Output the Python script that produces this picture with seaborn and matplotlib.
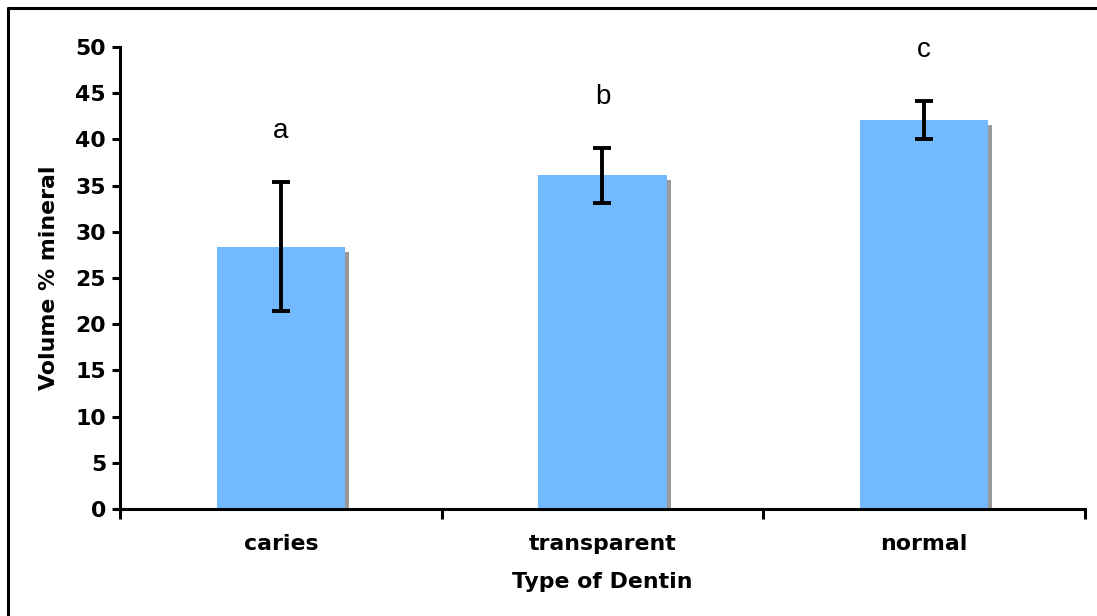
import matplotlib
matplotlib.use("Agg")
import matplotlib.pyplot as plt
import matplotlib.transforms as mtransforms
from matplotlib.lines import Line2D
import seaborn as sns
import pandas as pd

categories = ["caries", "transparent", "normal"]
mineral = [28.4, 36.1, 42.1]
errors = [7.0, 3.0, 2.05]
letters = ["a", "b", "c"]
yticks = [0, 5, 10, 15, 20, 25, 30, 35, 40, 45, 50]

df = pd.DataFrame({"dentin": categories, "mineral": mineral})

sns.set_theme(style="white")
plt.rcParams["font.family"] = ["DejaVu Sans"]
plt.rcParams["text.color"] = "black"
plt.rcParams["axes.labelcolor"] = "black"
plt.rcParams["xtick.color"] = "black"
plt.rcParams["ytick.color"] = "black"

FS = 15.8

fig = plt.figure(figsize=(10.97, 6.16), dpi=100)
ax = fig.add_axes([0.1094, 0.1737, 0.8796, 0.75])

# shadow bars
sns.barplot(data=df, x="dentin", y="mineral", order=categories, color="#999999",
            width=0.40, saturation=1, errorbar=None, ax=ax, zorder=1)
shadow_tr = mtransforms.offset_copy(ax.transData, fig=fig, x=4, y=-5, units="dots")
for p in ax.patches:
    p.set_transform(shadow_tr)
    p.set_edgecolor("none")
n_shadow = len(ax.patches)

sns.barplot(data=df, x="dentin", y="mineral", order=categories, color="#73B9FF",
            width=0.40, saturation=1, errorbar=None, ax=ax, zorder=2)
for p in ax.patches[n_shadow:]:
    p.set_edgecolor("none")
    p.set_zorder(2)

xs = list(range(len(categories)))
ax.errorbar(xs, mineral, yerr=errors, fmt="none", ecolor="black", elinewidth=2.8,
            capsize=6.5, capthick=2.8, zorder=3)

for x, m, e, lab in zip(xs, mineral, errors, letters):
    ax.text(x, m + e + 5.5, lab, ha="center", va="center", fontsize=20,
            family="Liberation Sans", color="black")

ax.set_xlim(-0.5, 2.5)
ax.set_ylim(0, 50)
ax.set_yticks(yticks)
ax.set_yticklabels([str(v) for v in yticks], fontsize=FS, fontweight="bold")
ax.set_xticks([-0.5, 0.5, 1.5, 2.5])
ax.set_xticklabels([])
ax.set_xticks(xs, minor=True)
ax.set_xticklabels(categories, minor=True, fontsize=FS, fontweight="bold")
ax.tick_params(axis="x", which="major", direction="out", length=7, width=2.2,
               color="black", bottom=True)
ax.tick_params(axis="x", which="minor", length=0, pad=18)
ax.tick_params(axis="y", direction="out", length=6, width=2.2, color="black",
               left=True, pad=4)

for s in ["top", "right"]:
    ax.spines[s].set_visible(False)
for s in ["left", "bottom"]:
    ax.spines[s].set_color("black")
    ax.spines[s].set_linewidth(2.2)
    ax.spines[s].set_zorder(4)

ax.set_xlabel("Type of Dentin", fontsize=FS, fontweight="bold", labelpad=13)
ax.set_ylabel("Volume % mineral", fontsize=FS, fontweight="bold", labelpad=12)

fig.add_artist(Line2D([8 / 1097, 8 / 1097], [0, 1 - 8 / 616], transform=fig.transFigure,
                      color="black", linewidth=2.2))
fig.add_artist(Line2D([8 / 1097, 1], [1 - 8 / 616, 1 - 8 / 616], transform=fig.transFigure,
                      color="black", linewidth=2.2))

fig.savefig("out.png", dpi=100, facecolor="white")
